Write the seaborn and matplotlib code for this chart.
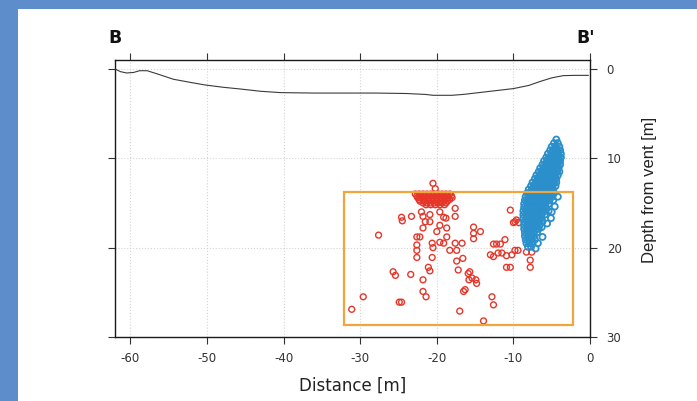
import matplotlib
matplotlib.use("Agg")
import matplotlib.pyplot as plt
from matplotlib.patches import Rectangle
import pandas as pd
import seaborn as sns

# --- topography along the B-B' section (distance [m], depth below vent [m]) ---
topo_dist = [-62.0, -61.3, -60.5, -59.6, -58.8, -57.8, -56.5, -54.4, -52.2, -50.2,
             -47.9, -45.6, -43.0, -40.4, -36.0, -32.6, -28.0, -24.0, -21.5, -20.5,
             -18.0, -16.5, -14.0, -12.0, -10.0, -8.0, -6.5, -5.0, -3.5, -2.0, -0.2]
topo_depth = [0.0, 0.3, 0.45, 0.4, 0.2, 0.2, 0.55, 1.15, 1.5, 1.8,
              2.05, 2.25, 2.5, 2.65, 2.7, 2.7, 2.7, 2.75, 2.85, 2.95,
              2.95, 2.85, 2.6, 2.4, 2.2, 1.85, 1.4, 1.0, 0.75, 0.72, 0.72]

# --- blue source locations: one depth level per row, distances along that row ---
blue_depth_rows = [7.9, 8.3, 8.7, 9.1, 9.5, 9.9, 10.3, 10.7, 11.1, 11.5,
                   11.9, 12.3, 12.7, 13.1, 13.5, 13.9, 14.3, 14.7, 15.1, 15.5,
                   15.9, 16.3, 16.7, 17.1, 17.5, 17.9, 18.3, 18.7, 19.1, 19.5, 19.9]
blue_dist_rows = [
    [-4.4],
    [-4.7, -4.2],
    [-5.0, -4.5, -4.0],
    [-5.2, -4.8, -4.3, -3.9],
    [-5.5, -5.0, -4.6, -4.2, -3.8],
    [-5.7, -5.3, -4.9, -4.5, -4.1, -3.8],
    [-6.0, -5.6, -5.2, -4.7, -4.3, -3.9],
    [-6.2, -5.8, -5.4, -5.0, -4.6, -4.2, -3.9],
    [-6.5, -6.1, -5.7, -5.3, -4.9, -4.5, -4.1],
    [-6.7, -6.3, -5.9, -5.5, -5.1, -4.7, -4.3, -4.0],
    [-7.0, -6.6, -6.2, -5.8, -5.4, -5.0, -4.6, -4.2],
    [-7.2, -6.8, -6.4, -6.0, -5.6, -5.2, -4.8, -4.4],
    [-7.5, -7.1, -6.7, -6.3, -5.9, -5.5, -5.1, -4.7, -4.4],
    [-7.7, -7.3, -6.9, -6.5, -6.1, -5.7, -5.3, -4.9, -4.5],
    [-8.0, -7.6, -7.2, -6.8, -6.4, -6.0, -5.6, -5.2, -4.8],
    [-8.2, -7.8, -7.4, -7.0, -6.6, -6.2, -5.8, -5.4, -5.0, -4.7],
    [-8.4, -8.0, -7.6, -7.2, -6.8, -6.4, -6.0, -5.6, -5.2, -4.9],
    [-8.5, -8.1, -7.7, -7.3, -6.9, -6.5, -6.1, -5.7, -5.3],
    [-8.6, -8.2, -7.8, -7.4, -7.0, -6.6, -6.2, -5.8, -5.4],
    [-8.6, -8.2, -7.8, -7.4, -7.0, -6.6, -6.2, -5.8],
    [-8.7, -8.3, -7.9, -7.5, -7.1, -6.7, -6.3, -5.9],
    [-8.7, -8.3, -7.9, -7.5, -7.1, -6.7, -6.3, -5.9],
    [-8.7, -8.3, -7.9, -7.5, -7.1, -6.7, -6.3],
    [-8.6, -8.2, -7.8, -7.4, -7.0, -6.6, -6.2],
    [-8.6, -8.2, -7.8, -7.4, -7.0, -6.6],
    [-8.6, -8.2, -7.8, -7.4, -7.0, -6.7],
    [-8.5, -8.1, -7.7, -7.3, -6.9],
    [-8.5, -8.1, -7.7, -7.3],
    [-8.4, -8.0, -7.6, -7.2],
    [-8.3, -7.9, -7.5],
    [-8.1, -7.7],
]
# isolated blue events on the flank of the main cluster
blue_extra_dist = [-4.2, -4.8, -4.6, -5.0, -5.1, -5.6, -6.3, -6.2, -6.8, -7.1, -5.4]
blue_extra_depth = [14.3, 14.7, 15.4, 16.0, 16.7, 17.3, 17.7, 18.8, 19.5, 20.1, 15.9]

# --- red source locations: dense shallow cluster near -20 m ---
red_core_depth_rows = [14.0, 14.2, 14.4, 14.6, 14.8, 15.0, 15.2]
red_core_dist_rows = [
    [-22.8, -22.3, -21.8, -21.3, -20.8, -20.3, -19.8, -19.3, -18.8, -18.3],
    [-22.6, -22.1, -21.6, -21.1, -20.6, -20.1, -19.6, -19.1, -18.6, -18.1],
    [-22.5, -22.0, -21.5, -21.0, -20.5, -20.0, -19.5, -19.0, -18.5, -18.0],
    [-22.3, -21.8, -21.3, -20.8, -20.3, -19.8, -19.3, -18.8, -18.3],
    [-22.2, -21.6, -21.1, -20.6, -20.1, -19.6, -19.1, -18.6],
    [-21.8, -21.3, -20.8, -20.3, -19.8, -19.3, -18.8],
    [-21.4, -20.8, -20.2, -19.6, -19.0],
]

# --- red source locations: scattered events ---
red_dist = [
    -20.5, -20.2,
    -24.6, -24.5, -23.3, -22.0, -21.8, -20.9, -19.6, -17.6, -17.6, -19.1,
    -18.8, -21.5, -20.9, -19.6, -18.7, -21.8, -20.0, -27.6, -22.6, -22.2,
    -18.7, -17.6, -16.7, -22.6, -22.6, -20.6, -20.5, -18.3, -19.6, -19.1,
    -22.6, -20.6, -17.4, -17.4, -16.6, -25.7, -25.4, -23.4, -21.1, -20.9,
    -21.8, -17.2, -15.9, -15.8, -21.8, -21.4, -29.6, -24.9, -24.6, -16.5,
    -31.1, -17.0,
    -10.4, -9.8, -9.3, -10.0, -9.6, -15.2, -15.2, -15.2, -14.3, -12.6,
    -12.2, -11.7, -11.1, -13.0, -12.6, -12.0, -11.5, -10.9, -10.2, -9.8,
    -9.4, -8.3, -7.6, -7.8, -7.8, -10.9, -10.4, -15.7, -15.4, -14.9,
    -14.8, -16.3, -12.8, -12.6, -13.9,
]
red_depth = [
    12.8, 13.4,
    16.6, 17.0, 16.5, 16.0, 16.5, 16.3, 16.0, 15.6, 16.5, 16.6,
    16.7, 17.1, 17.1, 17.5, 17.8, 17.8, 18.2, 18.6, 18.8, 18.8,
    18.8, 19.5, 19.5, 19.7, 20.3, 19.5, 20.0, 20.3, 19.4, 19.5,
    21.1, 21.1, 20.3, 21.5, 21.2, 22.7, 23.1, 23.0, 22.2, 22.6,
    23.6, 22.5, 22.9, 23.6, 24.9, 25.5, 25.5, 26.1, 26.1, 24.9,
    26.9, 27.1,
    15.8, 17.1, 17.2, 17.2, 16.9, 17.7, 18.4, 19.0, 18.2, 19.6,
    19.6, 19.6, 19.1, 20.8, 21.0, 20.6, 20.6, 20.9, 20.8, 20.3,
    20.3, 20.5, 20.5, 21.4, 22.2, 22.2, 22.2, 22.7, 23.4, 23.6,
    24.0, 24.7, 25.5, 26.4, 28.2,
]

# --- outline of the analysed region ---
box_dist = [-32.1, -2.2]
box_depth = [13.8, 28.7]

x_ticks = [-60, -50, -40, -30, -20, -10, 0]
y_ticks = [0, 10, 20, 30]

# tidy tables for seaborn
blue_df = pd.DataFrame({
    "dist": [d for row in blue_dist_rows for d in row] + blue_extra_dist,
    "depth": [z for z, row in zip(blue_depth_rows, blue_dist_rows) for _ in row]
             + blue_extra_depth,
})
red_df = pd.DataFrame({
    "dist": [d for row in red_core_dist_rows for d in row] + red_dist,
    "depth": [z for z, row in zip(red_core_depth_rows, red_core_dist_rows) for _ in row]
             + red_depth,
})
topo_df = pd.DataFrame({"dist": topo_dist, "depth": topo_depth})

sns.set_style("white")
plt.rcParams["font.family"] = ["DejaVu Sans"]

W, H = 697, 401
fig = plt.figure(figsize=(W / 100, H / 100), dpi=100)
fig.patch.set_facecolor("#5d8ecb")
fig.patches.append(Rectangle((18 / W, 0), 1, (H - 9) / H, transform=fig.transFigure,
                             facecolor="white", edgecolor="none", zorder=-5))

ax = fig.add_axes([115 / W, (H - 337) / H, 475 / W, 277 / H])
ax.set_facecolor("white")

sns.lineplot(data=topo_df, x="dist", y="depth", sort=False, color="#3a3a3a",
             linewidth=0.8, ax=ax, zorder=3)
sns.scatterplot(data=red_df, x="dist", y="depth", marker="o", s=18,
                facecolor="none", edgecolor="#e6362a", linewidth=1.0, ax=ax, zorder=4)
sns.scatterplot(data=blue_df, x="dist", y="depth", marker="o", s=19,
                facecolor="none", edgecolor="#2a8fca", linewidth=1.3, ax=ax, zorder=5)

ax.add_patch(Rectangle((box_dist[0], box_depth[0]), box_dist[1] - box_dist[0],
                       box_depth[1] - box_depth[0], fill=False,
                       edgecolor="#f2a53a", linewidth=1.6, zorder=6))

ax.set_xlim(-62, 0)
ax.set_ylim(30, -1)
ax.set_xticks(x_ticks)
ax.set_yticks(y_ticks)
ax.set_xticklabels([str(t) for t in x_ticks])
ax.grid(True, color="#d4d4d4", linestyle=":", linewidth=0.8)

for side in ax.spines.values():
    side.set_color("#1a1a1a")
    side.set_linewidth(1.0)

ax.tick_params(axis="both", direction="out", length=5, width=0.8, color="#333333",
               labelsize=8.5, labelcolor="#333333",
               top=True, bottom=True, left=True, right=True,
               labelleft=False, labelright=True, labeltop=False, labelbottom=True)
ax.tick_params(axis="x", pad=6)
ax.tick_params(axis="y", pad=7)

ax.set_xlabel("Distance [m]", fontsize=12, color="#222222")
ax.xaxis.set_label_coords(0.5, -0.145)
ax.yaxis.set_label_position("right")
ax.set_ylabel("Depth from vent [m]", fontsize=12, family=["Liberation Sans"],
              color="#222222", rotation=90)
ax.yaxis.set_label_coords(1.11, 0.53)

ax.text(0.0, 1.08, "B", transform=ax.transAxes, ha="center", va="center",
        fontsize=12.5, fontweight="bold", color="#111111")
ax.text(0.99, 1.08, "B'", transform=ax.transAxes, ha="center", va="center",
        fontsize=12.5, fontweight="bold", color="#111111")

fig.savefig("out.png", dpi=100)
